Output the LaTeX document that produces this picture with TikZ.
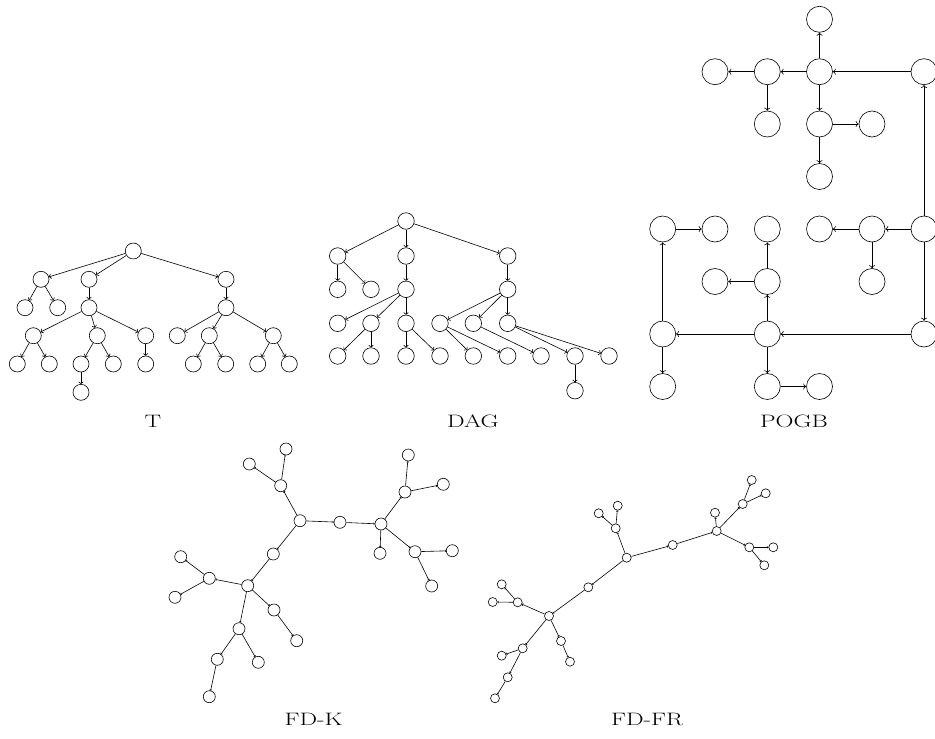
\documentclass[tikz,border=0pt]{standalone}
\usepackage{graphicx}
\usetikzlibrary{arrows.meta}
\tikzset{
  tn/.style={circle,draw,minimum size=16pt,inner sep=0pt,line width=0.6pt},
  dn/.style={circle,draw,minimum size=16.5pt,inner sep=0pt,line width=0.6pt},
  pn/.style={circle,draw,minimum size=26pt,inner sep=0pt,line width=0.6pt},
  kn/.style={circle,draw,minimum size=12pt,inner sep=0pt,line width=0.6pt},
  fn/.style={circle,draw,minimum size=9pt,inner sep=0pt,line width=0.6pt},
  arr/.style={line width=0.6pt,-{To[length=2.5pt,width=5pt]}},
  parr/.style={line width=0.6pt,-{To[length=3pt,width=6pt]}},
  farr/.style={line width=0.6pt,-{To[length=1.2pt,width=2.5pt]}},
  lab/.style={inner sep=0pt}
}
\newcommand{\glab}[1]{\scalebox{1.38}[1]{\fontsize{18}{22}\selectfont #1}}
\begin{document}
\begin{tikzpicture}[x=1pt,y=-1pt]
\useasboundingbox (0,0) rectangle (935,739);
% ---------- T ----------
\node[tn] (t0) at (133.3,251) {};
\node[tn] (t1) at (41,279.3) {};
\node[tn] (t2) at (89,279.3) {};
\node[tn] (t3) at (226,279.3) {};
\node[tn] (t4) at (25,307.7) {};
\node[tn] (t5) at (57.7,307.7) {};
\node[tn] (t6) at (89,307.7) {};
\node[tn] (t7) at (226,307.7) {};
\node[tn] (t8) at (33.3,335.7) {};
\node[tn] (t9) at (97.3,335.7) {};
\node[tn] (t10) at (145.7,335.7) {};
\node[tn] (t11) at (177.3,335.7) {};
\node[tn] (t12) at (209.3,335.7) {};
\node[tn] (t13) at (273.3,335.7) {};
\node[tn] (t14) at (17.3,364) {};
\node[tn] (t15) at (49.3,364) {};
\node[tn] (t16) at (81,364) {};
\node[tn] (t17) at (113.3,364) {};
\node[tn] (t18) at (145.7,364) {};
\node[tn] (t19) at (193.3,364) {};
\node[tn] (t20) at (225.7,364) {};
\node[tn] (t21) at (257.7,364) {};
\node[tn] (t22) at (289.3,364) {};
\node[tn] (t23) at (81,392.3) {};
\foreach \a/\b in {t0/t1,t0/t2,t0/t3,t1/t4,t1/t5,t2/t6,t3/t7,t6/t8,t6/t9,t6/t10,t7/t11,t7/t12,t7/t13,t8/t14,t8/t15,t9/t16,t9/t17,t10/t18,t12/t19,t12/t20,t13/t21,t13/t22,t16/t23}
  \draw[arr] (\a) -- (\b);
\node[lab] (labT) at (153,421.5) {\glab{T}};
% ---------- DAG ----------
\node[dn] (d0) at (406,221) {};
\node[dn] (d1) at (337.7,256) {};
\node[dn] (d2) at (406,256) {};
\node[dn] (d3) at (507.7,256) {};
\node[dn] (d4) at (337.7,289.3) {};
\node[dn] (d5) at (371,289.3) {};
\node[dn] (d6) at (406,289.3) {};
\node[dn] (d7) at (507.7,289.3) {};
\node[dn] (d8) at (337.7,323.3) {};
\node[dn] (d9) at (371,323.3) {};
\node[dn] (d10) at (406,323.3) {};
\node[dn] (d11) at (440,323.3) {};
\node[dn] (d12) at (473.3,323.3) {};
\node[dn] (d13) at (507.7,323.3) {};
\node[dn] (d14) at (337.7,356) {};
\node[dn] (d15) at (371,356) {};
\node[dn] (d16) at (406,356) {};
\node[dn] (d17) at (440,356) {};
\node[dn] (d18) at (473.3,356) {};
\node[dn] (d19) at (507.7,356) {};
\node[dn] (d20) at (541,356) {};
\node[dn] (d21) at (575,356) {};
\node[dn] (d22) at (609,356) {};
\node[dn] (d23) at (575,390.7) {};
\foreach \a/\b in {d0/d1,d0/d2,d0/d3,d1/d4,d1/d5,d2/d6,d3/d7,d6/d8,d6/d9,d6/d10,d7/d11,d7/d12,d7/d13,d9/d14,d9/d15,d10/d16,d10/d17,d11/d18,d11/d19,d12/d20,d13/d21,d13/d22,d21/d23}
  \draw[arr] (\a) -- (\b);
\node[lab] (labD) at (473,421.5) {\glab{DAG}};
% ---------- POGB ----------
\def\ca{662.7}\def\cb{715}\def\cc{767.3}\def\cd{819.5}\def\ce{872}\def\cf{924}
\def\ra{19.3}\def\rb{71.7}\def\rc{124}\def\rd{176.5}\def\re{229}\def\rf{281.5}\def\rg{334}\def\rh{386.5}
\node[pn] (p1) at (\cd,\ra) {};
\node[pn] (p2) at (\cb,\rb) {};
\node[pn] (p3) at (\cc,\rb) {};
\node[pn] (p4) at (\cd,\rb) {};
\node[pn] (p5) at (\cf,\rb) {};
\node[pn] (p6) at (\cc,\rc) {};
\node[pn] (p7) at (\cd,\rc) {};
\node[pn] (p8) at (\ce,\rc) {};
\node[pn] (p9) at (\cd,\rd) {};
\node[pn] (p10) at (\ca,\re) {};
\node[pn] (p11) at (\cb,\re) {};
\node[pn] (p12) at (\cc,\re) {};
\node[pn] (p13) at (\cd,\re) {};
\node[pn] (p14) at (\ce,\re) {};
\node[pn] (p15) at (\cf,\re) {};
\node[pn] (p16) at (\cb,\rf) {};
\node[pn] (p17) at (\cc,\rf) {};
\node[pn] (p18) at (\ce,\rf) {};
\node[pn] (p19) at (\ca,\rg) {};
\node[pn] (p20) at (\cc,\rg) {};
\node[pn] (p21) at (\cf,\rg) {};
\node[pn] (p22) at (\ca,\rh) {};
\node[pn] (p23) at (\cc,\rh) {};
\node[pn] (p24) at (\cd,\rh) {};
\foreach \a/\b in {p4/p1,p5/p4,p4/p3,p3/p2,p3/p6,p4/p7,p7/p8,p7/p9,p15/p5,p15/p14,p14/p13,p14/p18,p15/p21,p21/p20,p20/p19,p20/p17,p17/p12,p17/p16,p19/p10,p10/p11,p19/p22,p20/p23,p23/p24}
  \draw[parr] (\a) -- (\b);
\node[lab] (labP) at (794,421.5) {\glab{POGB}};
% ---------- FD-K ----------
\node[kn] (ka) at (286,449) {};
\node[kn] (kb) at (249.3,464) {};
\node[kn] (kc) at (280.7,485.7) {};
\node[kn] (kd) at (300,520.7) {};
\node[kn] (ke) at (340,522.3) {};
\node[kn] (kf) at (381,524) {};
\node[kn] (kg) at (408.3,455) {};
\node[kn] (kh) at (405,492) {};
\node[kn] (ki) at (443.3,484.3) {};
\node[kn] (kj) at (380,553.3) {};
\node[kn] (kk) at (415,551.7) {};
\node[kn] (kl) at (452.3,550.7) {};
\node[kn] (km) at (431.7,586) {};
\node[kn] (kn) at (273.3,554) {};
\node[kn] (ko) at (180.7,556.7) {};
\node[kn] (kp) at (209.3,578.3) {};
\node[kn] (kq) at (175,597.3) {};
\node[kn] (kr) at (247.7,585.7) {};
\node[kn] (ks) at (274,610) {};
\node[kn] (kt) at (296.7,640.7) {};
\node[kn] (ku) at (239,628.7) {};
\node[kn] (kv) at (258.3,662.3) {};
\node[kn] (kw) at (217.3,659.3) {};
\node[kn] (kx) at (209.3,696.7) {};
\foreach \a/\b in {kc/ka,kc/kb,kd/kc,kd/ke,ke/kf,kf/kh,kh/kg,kh/ki,kf/kj,kf/kk,kk/kl,kk/km,kd/kn,kn/kr,kr/kp,kp/ko,kp/kq,kr/ks,ks/kt,kr/ku,ku/kv,ku/kw,kw/kx}
  \draw[farr] (\a) -- (\b);
\node[lab] (labK) at (313.5,719.5) {\glab{FD-K}};
% ---------- FD-FR ----------
\node[fn] (fA) at (751.7,480) {};
\node[fn] (fB) at (765.7,493.3) {};
\node[fn] (fC) at (742.7,504) {};
\node[fn] (fD) at (715,512.7) {};
\node[fn] (fE) at (716.7,531) {};
\node[fn] (fF) at (672.7,545) {};
\node[fn] (fG) at (617.7,505.7) {};
\node[fn] (fH) at (598.7,513.3) {};
\node[fn] (fI) at (615.7,528.3) {};
\node[fn] (fJ) at (626.7,557.7) {};
\node[fn] (fK) at (749.3,547.3) {};
\node[fn] (fL) at (773.3,547.3) {};
\node[fn] (fM) at (764.3,565.3) {};
\node[fn] (fN) at (588.3,587.3) {};
\node[fn] (fO) at (501.7,584.3) {};
\node[fn] (fP) at (517.7,602.3) {};
\node[fn] (fQ) at (492.7,602) {};
\node[fn] (fR) at (549,616) {};
\node[fn] (fS) at (561,641) {};
\node[fn] (fT) at (570,661.7) {};
\node[fn] (fU) at (522.7,648.3) {};
\node[fn] (fV) at (501.7,655.7) {};
\node[fn] (fW) at (507.7,677.3) {};
\node[fn] (fX) at (495,698.3) {};
\foreach \a/\b in {fJ/fI,fI/fH,fI/fG,fJ/fF,fF/fE,fE/fD,fE/fC,fC/fA,fC/fB,fE/fK,fK/fL,fK/fM,fJ/fN,fN/fR,fR/fP,fP/fO,fP/fQ,fR/fS,fS/fT,fR/fU,fU/fV,fU/fW,fW/fX}
  \draw[farr] (\a) -- (\b);
\node[lab] (labF) at (647,719.5) {\glab{FD-FR}};
\end{tikzpicture}
\end{document}
